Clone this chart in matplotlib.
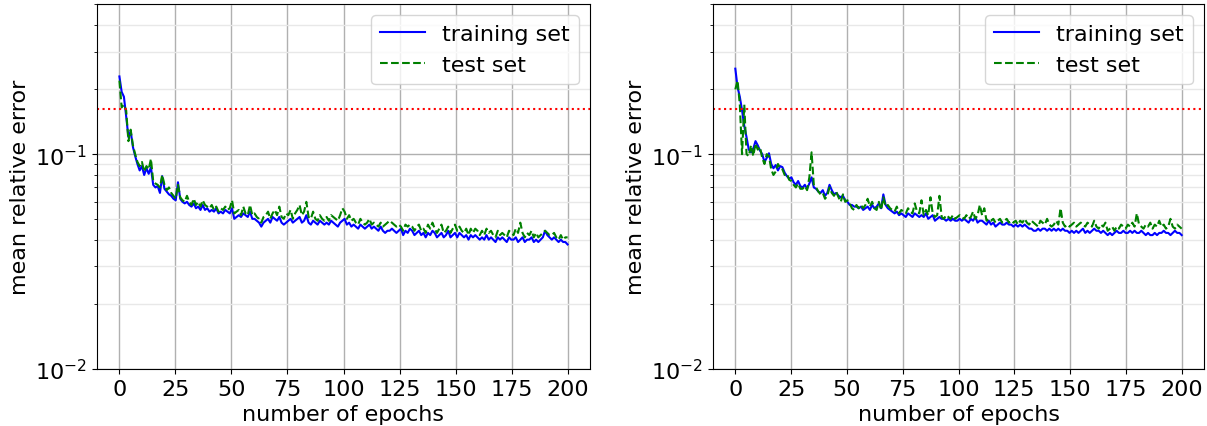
import numpy as np
import matplotlib
matplotlib.use("Agg")
import matplotlib.pyplot as plt

# --- Data (mean relative error per epoch) ---
LEFT_TRAIN = [
    0.230, 0.195, 0.185, 0.150, 0.120, 0.128, 0.108, 0.098, 0.090, 0.084,
    0.088, 0.080, 0.086, 0.081, 0.087, 0.072, 0.070, 0.071, 0.066, 0.079,
    0.069, 0.067, 0.065, 0.064, 0.062, 0.061, 0.074, 0.062, 0.060, 0.059,
    0.060, 0.058, 0.057, 0.059, 0.056, 0.057, 0.055, 0.058, 0.055, 0.056,
    0.054, 0.055, 0.054, 0.056, 0.053, 0.054, 0.053, 0.055, 0.054, 0.053,
    0.056, 0.050, 0.051, 0.052, 0.051, 0.053, 0.052, 0.051, 0.054, 0.050,
    0.050, 0.049, 0.048, 0.046, 0.048, 0.049, 0.050, 0.048, 0.051, 0.050,
    0.049, 0.051, 0.048, 0.047, 0.048, 0.049, 0.050, 0.048, 0.049, 0.050,
    0.051, 0.048, 0.049, 0.052, 0.048, 0.047, 0.049, 0.048, 0.047, 0.049,
    0.048, 0.047, 0.048, 0.047, 0.049, 0.048, 0.047, 0.046, 0.048, 0.049,
    0.050, 0.047, 0.048, 0.046, 0.047, 0.046, 0.045, 0.047, 0.046, 0.045,
    0.046, 0.047, 0.045, 0.046, 0.045, 0.044, 0.046, 0.044, 0.043, 0.044,
    0.044, 0.045, 0.044, 0.043, 0.044, 0.045, 0.042, 0.044, 0.043, 0.045,
    0.044, 0.042, 0.043, 0.044, 0.042, 0.043, 0.041, 0.043, 0.042, 0.044,
    0.043, 0.041, 0.042, 0.043, 0.041, 0.042, 0.044, 0.041, 0.042, 0.043,
    0.041, 0.043, 0.042, 0.041, 0.042, 0.040, 0.042, 0.041, 0.042, 0.041,
    0.040, 0.041, 0.040, 0.042, 0.040, 0.041, 0.040, 0.039, 0.041, 0.040,
    0.041, 0.040, 0.039, 0.041, 0.040, 0.040, 0.041, 0.039, 0.040, 0.041,
    0.039, 0.040, 0.040, 0.041, 0.039, 0.040, 0.039, 0.040, 0.041, 0.044,
    0.042, 0.041, 0.040, 0.041, 0.040, 0.039, 0.040, 0.039, 0.039, 0.038,
]
LEFT_TEST = [
    0.220, 0.165, 0.170, 0.160, 0.115, 0.130, 0.110, 0.100, 0.092, 0.088,
    0.092, 0.083, 0.088, 0.085, 0.095, 0.075, 0.073, 0.072, 0.070, 0.080,
    0.072, 0.068, 0.070, 0.066, 0.064, 0.062, 0.072, 0.063, 0.061, 0.060,
    0.064, 0.060, 0.058, 0.062, 0.058, 0.060, 0.057, 0.061, 0.058, 0.057,
    0.056, 0.058, 0.055, 0.057, 0.054, 0.056, 0.055, 0.057, 0.055, 0.056,
    0.061, 0.053, 0.054, 0.055, 0.052, 0.057, 0.053, 0.052, 0.058, 0.052,
    0.053, 0.051, 0.050, 0.048, 0.051, 0.052, 0.054, 0.050, 0.053, 0.055,
    0.052, 0.057, 0.051, 0.050, 0.053, 0.052, 0.055, 0.050, 0.053, 0.055,
    0.058, 0.052, 0.054, 0.060, 0.051, 0.050, 0.054, 0.050, 0.049, 0.052,
    0.050, 0.049, 0.051, 0.049, 0.052, 0.051, 0.050, 0.049, 0.052, 0.056,
    0.054, 0.050, 0.052, 0.049, 0.050, 0.048, 0.047, 0.050, 0.048, 0.047,
    0.048, 0.050, 0.047, 0.048, 0.047, 0.046, 0.048, 0.046, 0.047, 0.048,
    0.049, 0.048, 0.047, 0.046, 0.047, 0.046, 0.044, 0.047, 0.046, 0.047,
    0.046, 0.044, 0.046, 0.047, 0.044, 0.045, 0.043, 0.047, 0.045, 0.048,
    0.045, 0.043, 0.045, 0.047, 0.043, 0.044, 0.046, 0.043, 0.045, 0.047,
    0.044, 0.046, 0.044, 0.043, 0.045, 0.042, 0.045, 0.043, 0.045, 0.044,
    0.042, 0.044, 0.042, 0.045, 0.043, 0.044, 0.042, 0.041, 0.044, 0.042,
    0.043, 0.042, 0.041, 0.044, 0.043, 0.042, 0.045, 0.043, 0.048, 0.043,
    0.041, 0.043, 0.042, 0.044, 0.041, 0.043, 0.041, 0.042, 0.043, 0.044,
    0.043, 0.042, 0.042, 0.043, 0.041, 0.040, 0.042, 0.040, 0.041, 0.041,
]
RIGHT_TRAIN = [
    0.250, 0.205, 0.185, 0.160, 0.135, 0.120, 0.105, 0.102, 0.106, 0.115,
    0.110, 0.104, 0.100, 0.092, 0.096, 0.101, 0.090, 0.086, 0.089, 0.084,
    0.088, 0.087, 0.082, 0.079, 0.077, 0.078, 0.074, 0.072, 0.075, 0.071,
    0.070, 0.072, 0.069, 0.073, 0.078, 0.070, 0.069, 0.067, 0.066, 0.068,
    0.064, 0.066, 0.072, 0.068, 0.065, 0.066, 0.064, 0.063, 0.064, 0.061,
    0.060, 0.058, 0.058, 0.057, 0.057, 0.056, 0.057, 0.055, 0.056, 0.057,
    0.055, 0.058, 0.056, 0.057, 0.059, 0.056, 0.065, 0.058, 0.056, 0.055,
    0.054, 0.053, 0.054, 0.052, 0.053, 0.052, 0.051, 0.053, 0.052, 0.051,
    0.053, 0.052, 0.051, 0.052, 0.051, 0.053, 0.050, 0.051, 0.052, 0.049,
    0.050, 0.051, 0.050, 0.050, 0.049, 0.050, 0.049, 0.050, 0.049, 0.049,
    0.050, 0.049, 0.050, 0.049, 0.048, 0.050, 0.049, 0.051, 0.048, 0.049,
    0.049, 0.048, 0.047, 0.049, 0.047, 0.048, 0.046, 0.047, 0.048, 0.047,
    0.047, 0.048, 0.047, 0.047, 0.046, 0.047, 0.046, 0.047, 0.046, 0.047,
    0.046, 0.045, 0.045, 0.044, 0.044, 0.045, 0.044, 0.045, 0.045, 0.044,
    0.045, 0.044, 0.045, 0.044, 0.045, 0.044, 0.045, 0.044, 0.044, 0.043,
    0.044, 0.043, 0.044, 0.043, 0.044, 0.045, 0.043, 0.044, 0.043, 0.044,
    0.045, 0.044, 0.044, 0.043, 0.044, 0.043, 0.042, 0.043, 0.042, 0.043,
    0.044, 0.043, 0.043, 0.044, 0.043, 0.043, 0.044, 0.043, 0.044, 0.043,
    0.043, 0.044, 0.043, 0.042, 0.043, 0.042, 0.042, 0.043, 0.042, 0.043,
    0.043, 0.044, 0.043, 0.043, 0.042, 0.043, 0.044, 0.043, 0.043, 0.042,
]
RIGHT_TEST = [
    0.200, 0.220, 0.170, 0.100, 0.170, 0.100, 0.098, 0.110, 0.098, 0.112,
    0.105, 0.108, 0.096, 0.090, 0.100, 0.098, 0.085, 0.080, 0.083, 0.090,
    0.086, 0.085, 0.080, 0.081, 0.076, 0.075, 0.072, 0.070, 0.073, 0.069,
    0.069, 0.071, 0.068, 0.078, 0.102, 0.072, 0.070, 0.067, 0.065, 0.066,
    0.062, 0.064, 0.070, 0.066, 0.064, 0.067, 0.063, 0.060, 0.065, 0.060,
    0.061, 0.059, 0.056, 0.055, 0.058, 0.056, 0.058, 0.056, 0.058, 0.062,
    0.057, 0.060, 0.056, 0.055, 0.060, 0.055, 0.063, 0.057, 0.058, 0.056,
    0.055, 0.054, 0.057, 0.053, 0.055, 0.054, 0.053, 0.056, 0.054, 0.053,
    0.059, 0.054, 0.053, 0.061, 0.052, 0.055, 0.052, 0.063, 0.053, 0.051,
    0.052, 0.064, 0.051, 0.050, 0.052, 0.051, 0.050, 0.052, 0.050, 0.051,
    0.052, 0.051, 0.050, 0.052, 0.050, 0.051, 0.054, 0.050, 0.052, 0.058,
    0.052, 0.056, 0.049, 0.050, 0.049, 0.050, 0.048, 0.049, 0.050, 0.048,
    0.049, 0.050, 0.048, 0.049, 0.048, 0.049, 0.047, 0.049, 0.048, 0.050,
    0.048, 0.047, 0.049, 0.048, 0.047, 0.046, 0.049, 0.048, 0.047, 0.050,
    0.047, 0.046, 0.047, 0.049, 0.047, 0.056, 0.048, 0.046, 0.047, 0.046,
    0.047, 0.048, 0.046, 0.047, 0.048, 0.047, 0.046, 0.048, 0.047, 0.046,
    0.049, 0.046, 0.045, 0.047, 0.046, 0.048, 0.044, 0.045, 0.046, 0.044,
    0.046, 0.045, 0.047, 0.046, 0.045, 0.047, 0.046, 0.048, 0.046, 0.053,
    0.047, 0.046, 0.045, 0.047, 0.046, 0.048, 0.045, 0.047, 0.046, 0.049,
    0.046, 0.047, 0.045, 0.046, 0.050, 0.046, 0.045, 0.047, 0.046, 0.045,
]
THRESHOLD = 0.162

plt.rcParams.update({
    "font.family": "DejaVu Sans",
    "font.size": 16,
})


def draw_panel(ax, train, test):
    epochs = np.linspace(0, 200, len(train))
    ax.plot(epochs, train, color="blue", lw=1.5, label="training set")
    ax.plot(epochs, test, color="green", lw=1.5, ls="--", label="test set")
    ax.axhline(THRESHOLD, color="red", ls=":", lw=1.5)
    ax.set_yscale("log")
    ax.set_ylim(0.01, 0.5)
    ax.set_xticks([0, 25, 50, 75, 100, 125, 150, 175, 200])
    ax.grid(True, which="major", color="#b0b0b0", lw=1.0)
    ax.grid(True, which="minor", axis="y", color="#e8e8e8", lw=1.0)
    ax.set_xlabel("number of epochs")
    ax.set_ylabel("mean relative error")
    ax.legend(loc="upper right", fontsize=16)


def main():
    fig = plt.figure(figsize=(12.07, 4.27), dpi=100)
    ax1 = fig.add_axes([97 / 1207, 57 / 427, 493 / 1207, 365 / 427])
    ax2 = fig.add_axes([713 / 1207, 57 / 427, 491 / 1207, 365 / 427])
    draw_panel(ax1, LEFT_TRAIN, LEFT_TEST)
    draw_panel(ax2, RIGHT_TRAIN, RIGHT_TEST)
    fig.savefig("out.png", dpi=100)


if __name__ == "__main__":
    main()
